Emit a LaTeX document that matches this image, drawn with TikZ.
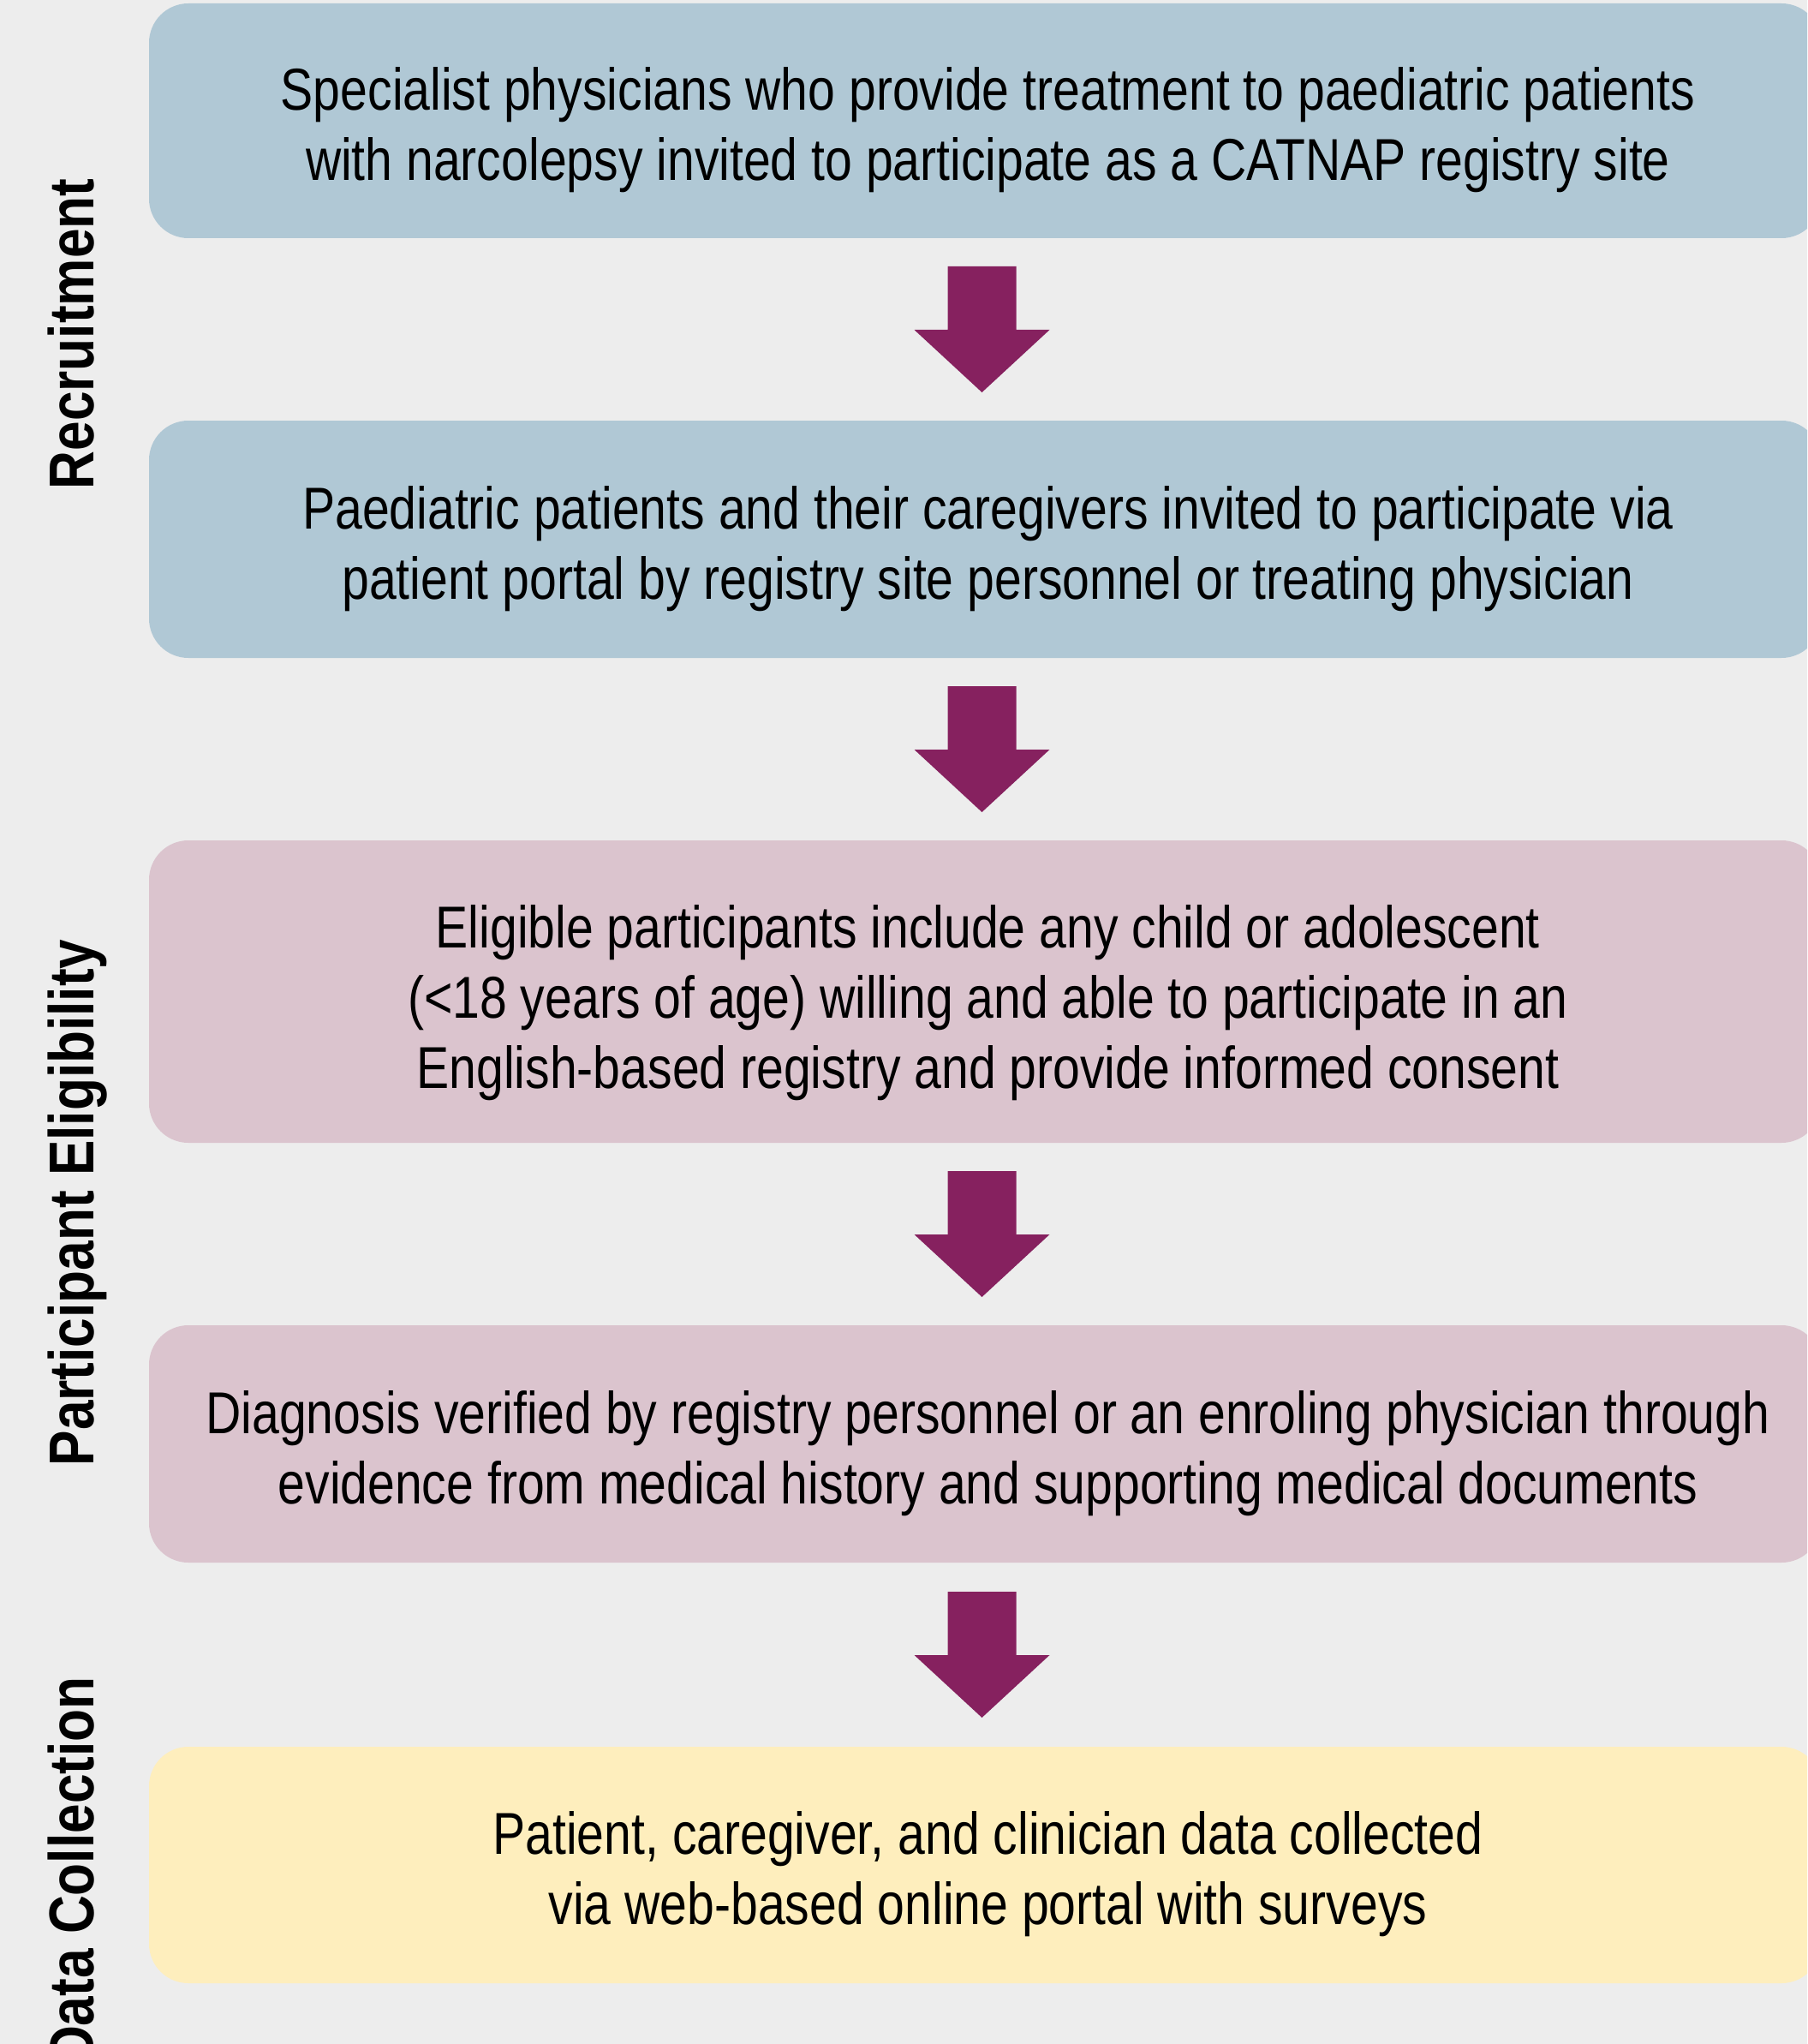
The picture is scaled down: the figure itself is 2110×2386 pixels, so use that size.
\documentclass[tikz,border=0pt]{standalone}
\usepackage{fontspec}
\setmainfont{Liberation Sans}[FakeStretch=0.828]
\newfontfamily\lblfont{Liberation Sans}[FakeStretch=0.84]
\usetikzlibrary{calc}
\definecolor{bgc}{RGB}{237,237,237}
\definecolor{bluec}{RGB}{176,200,213}
\definecolor{pinkc}{RGB}{219,196,206}
\definecolor{yellowc}{RGB}{254,238,189}
\definecolor{purplec}{RGB}{134,33,95}
\tikzset{
  boxs/.style={rectangle, rounded corners=23pt, minimum width=976pt, inner sep=0pt},
  txts/.style={align=center, font=\fontsize{34.5}{41}\selectfont, text=black, inner sep=0pt},
  lbls/.style={rotate=90, font=\lblfont\bfseries\fontsize{37}{40}\selectfont, inner sep=0pt},
  arr/.style={fill=purplec}
}
\newcommand{\blockarrow}[2]{%
  \coordinate (m) at ($(#1.south)!0.5!(#2.north)+(-3.5,0)$);
  \fill[arr] ($(m)+(-40,-73.5)$) -- ($(m)+(40,-73.5)$) -- ($(m)+(40,0.5)$) -- ($(m)+(79,0.5)$)
    -- ($(m)+(0,73.5)$) -- ($(m)+(-79,0.5)$) -- ($(m)+(-40,0.5)$) -- cycle;}
\begin{document}
\begin{tikzpicture}[x=0.5pt,y=-0.5pt]
\useasboundingbox (0,0) rectangle (2110,2386);
\fill[bgc] (0,0) rectangle (2110,2386);
\clip (0,0) rectangle (2110,2386);
% boxes
\node[boxs, fill=bluec, minimum height=137pt] (b1) at (1150,141) {};
\node[boxs, fill=bluec, minimum height=138.5pt] (b2) at (1150,629.5) {};
\node[boxs, fill=pinkc, minimum height=176.5pt] (b3) at (1150,1157.5) {};
\node[boxs, fill=pinkc, minimum height=138.5pt] (b4) at (1150,1685.5) {};
\node[boxs, fill=yellowc, minimum height=138pt] (b5) at (1150,2177) {};
% texts
\node[txts] (t1) at ($(b1.center)+(3.5,11)$) {Specialist physicians who provide treatment to paediatric patients\\with narcolepsy invited to participate as a CATNAP registry site};
\node[txts] (t2) at ($(b2.center)+(3.5,11)$) {Paediatric patients and their caregivers invited to participate via\\patient portal by registry site personnel or treating physician};
\node[txts] (t3) at ($(b3.center)+(3.5,13)$) {Eligible participants include any child or adolescent\\(<18 years of age) willing and able to participate in an\\English-based registry and provide informed consent};
\node[txts] (t4) at ($(b4.center)+(3.5,11)$) {Diagnosis verified by registry personnel or an enroling physician through\\evidence from medical history and supporting medical documents};
\node[txts] (t5) at ($(b5.center)+(3.5,11)$) {Patient, caregiver, and clinician data collected\\via web-based online portal with surveys};
% arrows
\blockarrow{b1}{b2}
\blockarrow{b2}{b3}
\blockarrow{b3}{b4}
\blockarrow{b4}{b5}
% side labels
\node[lbls, anchor=base] (l1) at (109,390) {Recruitment};
\node[lbls, anchor=base] (l2) at (109,1404) {Participant Eligibility};
\node[lbls, anchor=base east] (l3) at (109,1957) {Data Collection};
\end{tikzpicture}
\end{document}
